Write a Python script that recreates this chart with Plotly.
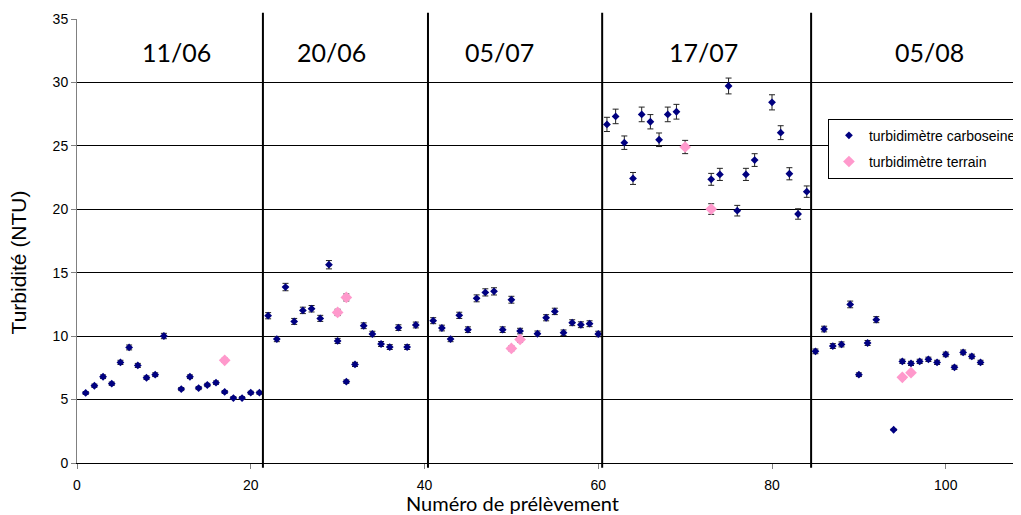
import plotly.graph_objects as go

# ---- data ----
carbo_x = [1, 2, 3, 4, 5, 6, 7, 8, 9, 10,
           12, 13, 14, 15, 16, 17, 18, 19, 20, 21,
           22, 23, 24, 25, 26, 27, 28, 29, 30, 31, 32, 33, 34, 35, 36, 37, 38, 39,
           41, 42, 43, 44, 45, 46, 47, 48, 49, 50, 51,
           53, 54, 55, 56, 57, 58, 59, 60,
           61, 62, 63, 64, 65, 66, 67, 68, 69,
           73, 74, 75, 76, 77, 78,
           80, 81, 82, 83, 84,
           85, 86, 87, 88, 89, 90, 91, 92,
           94, 95, 96, 97, 98, 99, 100, 101, 102, 103, 104]
carbo_y = [5.52, 6.09, 6.80, 6.25, 7.93, 9.11, 7.69, 6.72, 6.96, 10.01,
           5.83, 6.80, 5.91, 6.15, 6.33, 5.60, 5.12, 5.12, 5.54, 5.54,
           11.61, 9.77, 13.87, 11.16, 12.03, 12.16, 11.40, 15.63, 9.62, 6.41,
           7.77, 10.82, 10.17, 9.38, 9.14, 10.67, 9.14, 10.88,
           11.22, 10.64, 9.77, 11.64, 10.51, 12.98, 13.45, 13.53, 10.51, 12.87, 10.40,
           10.19, 11.45, 11.95, 10.27, 11.06, 10.90, 10.98, 10.17,
           26.69, 27.32, 25.25, 22.43, 27.48, 26.90, 25.48, 27.48, 27.69,
           22.36, 22.75, 29.72, 19.89, 22.75, 23.88,
           28.43, 26.04, 22.80, 19.63, 21.39,
           8.80, 10.56, 9.22, 9.35, 12.50, 6.96, 9.46, 11.30,
           2.62, 8.01, 7.85, 8.01, 8.17, 7.93, 8.56, 7.54, 8.72, 8.40, 7.93]

terrain_x = [17, 30, 31, 50, 51, 70, 73, 95, 96]
terrain_y = [8.09, 11.87, 13.05, 9.03, 9.74, 24.91, 20.02, 6.75, 7.12]

error_percent = 2.1

campaign_labels = ["11/06", "20/06", "05/07", "17/07", "05/08"]
campaign_label_x = [11.4, 29.3, 48.6, 72.1, 98.1]
campaign_label_y = 32.4
separators_x = [21.4, 40.4, 60.45, 84.5]

series_names = ["turbidimètre carboseine", "turbidimètre terrain"]
x_title = "Numéro de prélèvement"
y_title = "Turbidité (NTU)"
x_ticks = [0, 20, 40, 60, 80, 100]
y_ticks = [0, 5, 10, 15, 20, 25, 30, 35]

# page body has an 8px margin: figure placed so the plot lands where the reference has it
OFF = 8
PLOT_L, PLOT_R, PLOT_T, PLOT_B = 77.3, 1021, 19.3, 463.3  # window pixels
W = 1021 - OFF
H = 515 - OFF
PW = PLOT_R - PLOT_L
PH = PLOT_B - PLOT_T


def px_to_paper(xw, yw):
    return (xw - PLOT_L) / PW, (PLOT_B - yw) / PH


fig = go.Figure()

fig.add_trace(go.Scatter(
    x=carbo_x, y=carbo_y, mode="markers", name=series_names[0],
    legendgroup="a",
    marker=dict(symbol="diamond", size=6, color="#000080"),
    error_y=dict(type="percent", value=error_percent, color="#222222",
                 thickness=1, width=3),
    cliponaxis=False,
))
fig.add_trace(go.Scatter(
    x=terrain_x, y=terrain_y, mode="markers", name=series_names[1],
    legendgroup="b",
    marker=dict(symbol="diamond", size=9, color="#FF99CC"),
    error_y=dict(type="percent", value=error_percent, color="#222222",
                 thickness=1, width=3),
    cliponaxis=False,
))

for sx in separators_x:
    fig.add_shape(type="line", xref="x", yref="paper", x0=sx, x1=sx,
                  y0=px_to_paper(0, 468)[1], y1=px_to_paper(0, 13)[1],
                  line=dict(color="black", width=2))

for lab, lx in zip(campaign_labels, campaign_label_x):
    fig.add_annotation(x=lx, y=campaign_label_y, xref="x", yref="y",
                       text=lab, showarrow=False, xanchor="center", yanchor="middle",
                       font=dict(family="Lato", size=25, color="black"))

tx, ty = px_to_paper(513, 503)
fig.add_annotation(xref="paper", yref="paper", x=tx, y=ty, text=x_title,
                   showarrow=False, xanchor="center", yanchor="middle",
                   font=dict(family="Lato", size=20, color="black"))

yx, yy = px_to_paper(19, 263)
fig.add_annotation(xref="paper", yref="paper", x=yx, y=yy,
                   text=y_title, textangle=-90, showarrow=False,
                   xanchor="center", yanchor="middle",
                   font=dict(family="Liberation Sans", size=21, color="black"))

lx, ly = px_to_paper(828, 119)
fig.update_layout(
    width=W, height=H,
    margin=dict(l=PLOT_L - OFF, r=0, t=PLOT_T - OFF, b=H - (PLOT_B - OFF), autoexpand=False),
    paper_bgcolor="white", plot_bgcolor="white",
    font=dict(family="Liberation Sans", size=14, color="black"),
    showlegend=True,
    legend=dict(x=lx, y=ly, xanchor="left", yanchor="top",
                bgcolor="white", bordercolor="black", borderwidth=1,
                font=dict(family="Liberation Sans", size=14, color="black"),
                traceorder="grouped", tracegroupgap=5),
)

fig.update_xaxes(range=[0, 108.66], tickvals=x_ticks, showgrid=False,
                 showline=True, linecolor="black", linewidth=1,
                 ticks="outside", ticklen=5, tickcolor="#808080",
                 ticklabelstandoff=4, zeroline=False)
fig.update_yaxes(range=[0, 35], tickvals=y_ticks, showgrid=True,
                 gridcolor="black", gridwidth=1,
                 showline=True, linecolor="#808080", linewidth=1,
                 ticks="outside", ticklen=5, tickcolor="#808080",
                 zeroline=False)

fig.write_html("out.html")
